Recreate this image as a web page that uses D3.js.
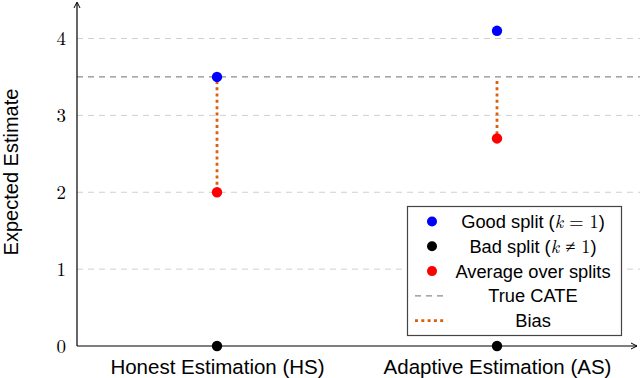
<!DOCTYPE html>
<html><head><meta charset="utf-8">
<script src="https://cdn.jsdelivr.net/npm/d3@7"></script>
<style>body{margin:0;background:#fff}svg{display:block}</style>
</head><body>
<svg id="c" width="640" height="378"></svg>
<script>
const categories = ["Honest Estimation (HS)", "Adaptive Estimation (AS)"];
const goodSplit = [3.5, 4.1];
const badSplit = [0, 0];
const avgSplit = [2.0, 2.7];
const trueCATE = 3.5;
const yTicks = [0, 1, 2, 3, 4];

const svg = d3.select("#c");
const x0 = 77, x1 = 637, yBase = 346;
const y = d3.scaleLinear().domain([0, 4]).range([yBase, 38.5]);
const x = d3.scalePoint().domain(categories).range([217, 497]);
const sans = "'Liberation Sans',Arial,Helvetica,sans-serif";
const serif = "'Latin Modern Roman','Liberation Serif','DejaVu Serif',serif";

// grid
svg.append("g").selectAll("line").data(yTicks.filter(d => d > 0)).join("line")
  .attr("x1", x0).attr("x2", 640).attr("y1", d => y(d)).attr("y2", d => y(d))
  .attr("stroke", "#d0d0d0").attr("stroke-width", 1).attr("stroke-dasharray", "6,5");

// true CATE
svg.append("line").attr("x1", x0).attr("x2", 640).attr("y1", y(trueCATE)).attr("y2", y(trueCATE))
  .attr("stroke", "#8c8c8c").attr("stroke-width", 1.2).attr("stroke-dasharray", "6,5");

// axes
const yAxis = d3.axisLeft(y).tickValues(yTicks).tickSize(0).tickPadding(11).tickFormat(d3.format("d"));
const gy = svg.append("g").attr("transform", `translate(${x0},0)`).call(yAxis);
gy.select(".domain").remove();
gy.selectAll("text").attr("font-family", serif).attr("font-size", 19).attr("fill", "#000");

const xAxis = d3.axisBottom(x).tickSize(0).tickPadding(13);
const gx = svg.append("g").attr("transform", `translate(0,${yBase})`).call(xAxis);
gx.select(".domain").remove();
gx.selectAll("text").attr("font-family", sans).attr("font-size", 20.5).attr("fill", "#000");

svg.append("line").attr("x1", x0).attr("x2", x0).attr("y1", yBase).attr("y2", 3).attr("stroke", "#000").attr("stroke-width", 1.2);
svg.append("line").attr("x1", x0).attr("x2", x1).attr("y1", yBase).attr("y2", yBase).attr("stroke", "#000").attr("stroke-width", 1.2);
svg.append("path").attr("d", `M${x0-3},${8} L${x0},${2} L${x0+3},${8}`).attr("fill", "none").attr("stroke", "#000").attr("stroke-width", 1);
svg.append("path").attr("d", `M${x1-6},${yBase-3} L${x1},${yBase} L${x1-6},${yBase+3}`).attr("fill", "none").attr("stroke", "#000").attr("stroke-width", 1);

// y label
svg.append("text").attr("transform", `translate(18,172) rotate(-90)`)
  .attr("text-anchor", "middle").attr("font-family", sans).attr("font-size", 20)
  .text("Expected Estimate");

// bias lines
svg.append("g").selectAll("line").data(categories).join("line")
  .attr("x1", d => x(d)).attr("x2", d => x(d))
  .attr("y1", y(trueCATE) + 4).attr("y2", (d, i) => y(avgSplit[i]))
  .attr("stroke", "#d9620f").attr("stroke-width", 2.8).attr("stroke-dasharray", "3,3.3");

// points
function pts(vals, color) {
  svg.append("g").selectAll("circle").data(vals).join("circle")
    .attr("cx", (d, i) => x(categories[i])).attr("cy", d => y(d)).attr("r", 5.2).attr("fill", color);
}
pts(goodSplit, "#0000ff");
pts(badSplit, "#000000");
pts(avgSplit, "#ff0000");

// legend
const lg = svg.append("g");
lg.append("rect").attr("x", 407.5).attr("y", 206.5).attr("width", 214).attr("height", 129)
  .attr("fill", "#fff").attr("stroke", "#444").attr("stroke-width", 1.2);
const rows = [
  {type: "dot", color: "#0000ff", parts: [["Good split (", "n"], ["k", "i"], [" = 1", "m"], [")", "n"]]},
  {type: "dot", color: "#000000", parts: [["Bad split (", "n"], ["k", "i"], [" ≠ 1", "m"], [")", "n"]]},
  {type: "dot", color: "#ff0000", parts: [["Average over splits", "n"]]},
  {type: "dash", parts: [["True CATE", "n"]]},
  {type: "dot2", parts: [["Bias", "n"]]}
];
rows.forEach((r, i) => {
  const cy = 221.5 + i * 24.8;
  if (r.type === "dot") lg.append("circle").attr("cx", 432).attr("cy", cy).attr("r", 5).attr("fill", r.color);
  else if (r.type === "dash") lg.append("line").attr("x1", 415).attr("x2", 446).attr("y1", cy).attr("y2", cy)
    .attr("stroke", "#8c8c8c").attr("stroke-width", 1.2).attr("stroke-dasharray", "6,5");
  else lg.append("line").attr("x1", 415).attr("x2", 446).attr("y1", cy).attr("y2", cy)
    .attr("stroke", "#d9620f").attr("stroke-width", 2.8).attr("stroke-dasharray", "3,3.3");
  const t = lg.append("text").attr("x", 533).attr("y", cy + 6.5).attr("text-anchor", "middle")
    .attr("font-family", sans).attr("font-size", 18.3);
  r.parts.forEach(p => {
    const ts = t.append("tspan").text(p[0]);
    if (p[1] !== "n") ts.attr("font-family", serif);
    if (p[1] === "i") ts.attr("font-style", "italic");
  });
});
</script>
</body></html>
